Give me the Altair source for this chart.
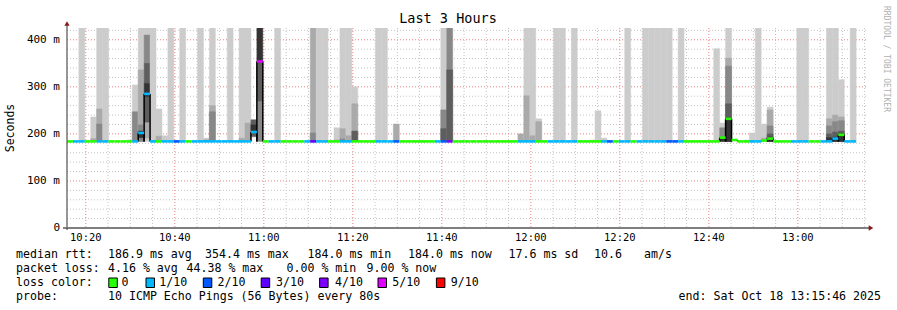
import altair as alt
import numpy as np
import pandas as pd

# ------------------------------------------------------------------ data
T_START = 10 * 60 + 15 + 46 / 60      # 10:15:46 (minutes since midnight)
STEP_MIN = 80 / 60                    # one probe round every 80 s
SPAN_MIN = 180                        # last 3 hours
Y_MAX = 425                           # top of value axis (ms)

loss_names = ["0", "1/10", "2/10", "3/10", "4/10", "5/10", "9/10"]
loss_values = [0, 1, 2, 3, 4, 5, 9]
loss_colors = ["#26ff00", "#00b8ff", "#0059ff", "#5e00ff", "#7e00ff", "#dd00ff", "#ff0000"]

# lost pings (of 10) per 80 s step
loss_level = [
    0, 1, 1, 0, 0, 1, 1, 0, 0, 0,
    0, 1, 1, 1, 1, 0, 1, 1, 2, 1,
    0, 1, 1, 1, 1, 1, 1, 1, 1, 1,
    1, 1, 5, 0, 1, 1, 0, 0, 0, 0,
    1, 3, 1, 1, 0, 0, 1, 1, 0, 0,
    0, 0, 1, 1, 1, 2, 0, 0, 0, 0,
    0, 0, 1, 2, 4, 0, 0, 0, 0, 0,
    0, 0, 0, 0, 0, 0, 1, 1, 1, 0,
    0, 1, 1, 1, 1, 1, 0, 0, 0, 0,
    1, 2, 0, 1, 1, 0, 1, 1, 1, 1,
    1, 2, 2, 1, 0, 0, 0, 0, 0, 0,
    0, 0, 0, 0, 0, 1, 1, 0, 0, 0,
    0, 0, 1, 1, 1, 0, 0, 1, 1, 1,
    0, 1, 1,
]

# median rtt per step (ms)
median_ms = [
    184, 184, 184, 184, 184, 184, 184, 184, 184, 184,
    184, 184, 202, 285, 184, 184, 184, 184, 184, 184,
    184, 184, 184, 184, 184, 184, 184, 184, 184, 184,
    184, 204, 354, 184, 184, 184, 184, 184, 184, 184,
    184, 184, 184, 184, 184, 184, 184, 184, 184, 184,
    184, 184, 184, 184, 184, 184, 184, 184, 184, 184,
    184, 184, 184, 184, 184, 184, 184, 184, 184, 184,
    184, 184, 184, 184, 184, 184, 184, 184, 184, 184,
    184, 184, 184, 184, 184, 184, 184, 184, 184, 184,
    184, 184, 184, 184, 184, 184, 184, 184, 184, 184,
    184, 184, 184, 184, 184, 184, 184, 184, 184, 184,
    192, 232, 187, 184, 184, 184, 184, 186, 190, 184,
    184, 184, 184, 184, 184, 184, 184, 184, 184, 190,
    198, 184, 184,
]

# smoke bands: step, low ms, high ms, tone (1 lightest .. 5 darkest)
smoke_step = [
    2,
    4, 4,
    5, 5, 5,
    6,
    10,
    11, 11,
    12, 12, 12, 12,
    13, 13, 13, 13, 13, 13,
    14,
    15, 15,
    16,
    17,
    19,
    22,
    23, 23,
    24, 24, 24,
    27,
    29, 29,
    30, 30,
    31, 31,
    32, 32, 32,
    35,
    41, 41,
    42,
    43,
    45, 45,
    46, 46, 46,
    47, 47,
    48, 48, 48,
    52,
    53,
    55,
    63, 63, 63,
    64, 64,
    76,
    77, 77,
    78, 78,
    79, 79,
    82,
    83,
    85,
    88,
    89,
    90,
    94,
    97, 98, 99, 100, 101,
    103,
    109,
    110, 110, 110,
    111, 111, 111, 111, 111,
    114,
    115,
    116,
    117, 117,
    118, 118, 118, 118, 118,
    123,
    124,
    128, 128, 128, 128, 128,
    129, 129, 129, 129, 129,
    130, 130, 130, 130, 130,
    132,
]
smoke_lo = [
    184,
    184, 184,
    184, 184, 184,
    184,
    184,
    184, 184,
    184, 184, 184, 192,
    184, 191, 225, 279, 308, 351,
    184,
    184, 184,
    184,
    184,
    184,
    184,
    184, 184,
    184, 184, 184,
    184,
    184, 184,
    184, 184,
    194, 206,
    184, 270, 354,
    184,
    184, 184,
    184,
    184,
    184, 184,
    184, 184, 184,
    184, 184,
    184, 184, 184,
    184,
    184,
    184,
    184, 184, 184,
    184, 184,
    184,
    184, 184,
    184, 184,
    184, 184,
    184,
    184,
    184,
    184,
    184,
    184,
    184,
    184, 184, 184, 184, 184,
    184,
    184,
    184, 184, 184,
    184, 184, 184, 184, 184,
    184,
    184,
    184,
    184, 184,
    184, 184, 184, 184, 184,
    184,
    184,
    184, 184, 184, 184, 184,
    184, 184, 184, 184, 184,
    184, 184, 184, 184, 184,
    184,
]
smoke_hi = [
    430,
    236, 190,
    430, 253, 221,
    430,
    187,
    304, 247,
    430, 336, 219, 206,
    430, 225, 279, 308, 351, 410,
    430,
    253, 195,
    196,
    430,
    430,
    430,
    191, 187,
    430, 260, 247,
    430,
    430, 191,
    430, 223,
    230, 219,
    270, 354, 430,
    430,
    430, 202,
    430,
    430,
    213, 187,
    430, 211, 189,
    430, 196,
    300, 264, 206,
    430,
    430,
    221,
    430, 251, 211,
    430, 336,
    200,
    430, 281,
    430, 196,
    232, 226,
    430,
    430,
    430,
    187,
    249,
    191,
    430,
    430, 430, 430, 430, 430,
    430,
    381,
    223, 213, 192,
    430, 361, 344, 264, 234,
    187,
    202,
    430,
    221, 191,
    257, 251, 217, 200, 193,
    430,
    430,
    430, 232, 217, 200, 192,
    430, 240, 226, 204, 193,
    315, 236, 228, 206, 200,
    430,
]
smoke_tone = [
    1,
    1, 2,
    1, 2, 3,
    1,
    1,
    1, 3,
    1, 2, 3, 5,
    1, 2, 4, 5, 4, 3,
    1,
    1, 2,
    1,
    1,
    1,
    1,
    1, 3,
    1, 2, 3,
    1,
    1, 2,
    1, 2,
    4, 5,
    3, 4, 5,
    1,
    2, 3,
    1,
    1,
    1, 2,
    1, 2, 3,
    1, 2,
    1, 2, 4,
    1,
    1,
    2,
    1, 3, 4,
    3, 4,
    2,
    1, 2,
    1, 2,
    1, 2,
    1,
    1,
    1,
    1,
    1,
    1,
    1,
    1, 1, 1, 1, 1,
    1,
    1,
    1, 3, 5,
    1, 2, 3, 4, 5,
    1,
    1,
    1,
    1, 2,
    1, 2, 3, 4, 5,
    1,
    1,
    1, 2, 3, 4, 5,
    1, 2, 3, 4, 5,
    1, 2, 3, 4, 5,
    1,
]
tone_colors = {1: "#cccccc", 2: "#aaaaaa", 3: "#888888", 4: "#5e5e5e", 5: "#333333"}

x_tick_minutes = [620, 640, 660, 680, 700, 720, 740, 760, 780]
y_tick_values = [0, 100, 200, 300, 400]

stats_rtt = ["median rtt:", "186.9 ms avg", "354.4 ms max", "184.0 ms min",
             "184.0 ms now", "17.6 ms sd", "10.6", "am/s"]
stats_loss = ["packet loss:", "4.16 % avg", "44.38 % max", "0.00 % min", "9.00 % now"]
probe_text = ["probe:", "10 ICMP Echo Pings (56 Bytes) every 80s"]
end_text = "end: Sat Oct 18 13:15:46 2025"
title_text = "Last 3 Hours"

assert len(loss_level) == len(median_ms) == 133
assert len(smoke_step) == len(smoke_lo) == len(smoke_hi) == len(smoke_tone)

# ------------------------------------------------------------------ layout
W, H = 801, 200
PL, PT = 67, 28
FONT = "DejaVu Sans Mono"

xs = alt.Scale(domain=[T_START, T_START + SPAN_MIN], nice=False, zero=False)
ys = alt.Scale(domain=[0, Y_MAX], nice=False, zero=False)


def X(f):
    return alt.X(f, type="quantitative", scale=xs, axis=None)


def Y(f):
    return alt.Y(f, type="quantitative", scale=ys, axis=None)


one = pd.DataFrame({"a": [0]})

# grid
minor_x = [m for m in range(620, 800, 5) if m % 20 != 0]
major_x = list(range(620, 800, 20))
minor_y = [v for v in range(20, 425, 20) if v % 100 != 0]
major_y = [100, 200, 300, 400]

grid_minor_x = alt.Chart(pd.DataFrame({"m": minor_x})).mark_rule(
    color="#c4c4c4", strokeDash=[1, 2], strokeWidth=1).encode(
    x=X("m"), y=alt.value(0), y2=alt.value(H))
grid_minor_y = alt.Chart(pd.DataFrame({"v": minor_y})).mark_rule(
    color="#c4c4c4", strokeDash=[1, 2], strokeWidth=1).encode(
    y=Y("v"), x=alt.value(0), x2=alt.value(W))
grid_major_x = alt.Chart(pd.DataFrame({"m": major_x})).mark_rule(
    color="#ee8080", strokeDash=[1, 2], strokeWidth=1).encode(
    x=X("m"), y=alt.value(0), y2=alt.value(H))
grid_major_y = alt.Chart(pd.DataFrame({"v": major_y})).mark_rule(
    color="#ee8080", strokeDash=[1, 2], strokeWidth=1).encode(
    y=Y("v"), x=alt.value(0), x2=alt.value(W))

# smoke
smoke_df = pd.DataFrame({
    "step": smoke_step, "lo": smoke_lo, "hi": smoke_hi,
    "shade": [tone_colors[t] for t in smoke_tone],
})
smoke_df["t0"] = T_START + smoke_df["step"] * STEP_MIN
smoke_df["t1"] = smoke_df["t0"] + STEP_MIN
smoke = alt.Chart(smoke_df).mark_rect(clip=True, strokeWidth=0.5).encode(
    x=X("t0"), x2="t1:Q", y=Y("lo"), y2="hi:Q",
    color=alt.Color("shade:N", scale=None),
    stroke=alt.Stroke("shade:N", scale=None))

# median line
steps = np.arange(len(median_ms))
cmap = dict(zip(loss_values, loss_colors))
med_df = pd.DataFrame({
    "t0": T_START + steps * STEP_MIN,
    "t1": T_START + (steps + 1) * STEP_MIN,
    "med": median_ms,
    "col": [cmap[v] for v in loss_level],
})
edge_rows = []
for k, m in enumerate(median_ms):
    if m > 185:
        for t in (T_START + k * STEP_MIN, T_START + (k + 1) * STEP_MIN):
            edge_rows.append({"t": t, "base": 184, "med": m})
edge_df = pd.DataFrame(edge_rows)
edges = alt.Chart(edge_df).mark_rule(color="black", strokeWidth=1.5).encode(
    x=X("t"), y=Y("base"), y2="med:Q")
median = alt.Chart(med_df).mark_rule(strokeWidth=2.6).encode(
    x=X("t0"), x2="t1:Q", y=Y("med"), color=alt.Color("col:N", scale=None))

# axes
x_axis = alt.Chart(one).mark_rule(color="black", strokeWidth=1).encode(
    x=alt.value(-4), x2=alt.value(W + 2), y=alt.value(H))
y_axis = alt.Chart(one).mark_rule(color="#606060", strokeWidth=1.3).encode(
    x=alt.value(0), y=alt.value(-4), y2=alt.value(H + 2))
arrow_up = alt.Chart(one).mark_point(shape="triangle-up", filled=True, size=28,
                                     color="#8b1a1a", opacity=1).encode(
    x=alt.value(0), y=alt.value(-4.5))
arrow_right = alt.Chart(one).mark_point(shape="triangle-right", filled=True, size=28,
                                        color="#8b1a1a", opacity=1).encode(
    x=alt.value(W + 3), y=alt.value(H))

xlab_df = pd.DataFrame({"m": x_tick_minutes,
                        "label": [f"{m // 60}:{m % 60:02d}" for m in x_tick_minutes]})
x_labels = alt.Chart(xlab_df).mark_text(font=FONT, fontSize=10.5, align="center",
                                        baseline="middle", color="black").encode(
    x=X("m"), y=alt.value(H + 10), text="label:N")
ylab_df = pd.DataFrame({"v": y_tick_values,
                        "label": ["0\u00a0\u00a0" if v == 0 else f"{v} m" for v in y_tick_values]})
y_labels = alt.Chart(ylab_df).mark_text(font=FONT, fontSize=11, align="right",
                                        baseline="middle", color="black").encode(
    y=Y("v"), x=alt.value(-7), text="label:N")


def text_layer(rows, size, align="left", angle=0, color="black"):
    df = pd.DataFrame(rows, columns=["text", "px", "py"])
    df["px"] = df["px"] - PL
    df["py"] = df["py"] - PT
    return alt.Chart(df).mark_text(font=FONT, fontSize=size, align=align,
                                   baseline="middle", angle=angle, color=color).encode(
        x=alt.X("px:Q", scale=None), y=alt.Y("py:Q", scale=None), text="text:N")


title = text_layer([(title_text, 448, 19)], 13.5, align="center")
ylabel = text_layer([("Seconds", 11, 128)], 11.5, align="center", angle=270)
rrd = text_layer([("RRDTOOL / TOBI OETIKER", 886, 59)], 8, align="center", angle=90,
                 color="#b0b0b0")

rtt_x = [16, 108, 205, 307.5, 408, 508.5, 594, 644]
loss_x = [16, 108, 186.5, 286.5, 366.5]
box_x = [108.8, 146, 203.3, 261.2, 319.6, 378, 436.4]
lab_x = [121.4, 159.2, 217.6, 276, 335, 392.3, 450.7]
rows = []
rows += [(t, x, 254.5) for t, x in zip(stats_rtt, rtt_x)]
rows += [(t, x, 268.5) for t, x in zip(stats_loss, loss_x)]
rows += [("loss color:", 16, 282.5)]
rows += [(t, x, 282.5) for t, x in zip(loss_names, lab_x)]
rows += [(probe_text[0], 16, 296.5), (probe_text[1], 108, 296.5)]
legend_text = text_layer(rows, 11.6)
end_layer = text_layer([(end_text, 881, 296.5)], 11.6, align="right")

box_df = pd.DataFrame({"bx": [b - PL for b in box_x],
                       "col": loss_colors})
box_df["bx2"] = box_df["bx"] + 8.5
box_df["by"] = 278 - PT
box_df["by2"] = 287.5 - PT
boxes = alt.Chart(box_df).mark_rect(stroke="black", strokeWidth=1).encode(
    x=alt.X("bx:Q", scale=None), x2="bx2:Q",
    y=alt.Y("by:Q", scale=None), y2="by2:Q",
    color=alt.Color("col:N", scale=None))

chart = alt.layer(
    grid_minor_x, grid_minor_y, grid_major_x, grid_major_y,
    smoke, edges, median,
    x_axis, y_axis, arrow_up, arrow_right,
    x_labels, y_labels, title, ylabel, rrd, legend_text, end_layer, boxes,
).resolve_scale(x="independent", y="independent").properties(
    width=W, height=H,
    padding={"left": PL, "top": PT, "right": 897 - PL - W, "bottom": 310 - PT - H},
    autosize=alt.AutoSizeParams(type="none"),
    background="white",
).configure_view(strokeWidth=0)

chart.save("out.html", embed_options={"renderer": "svg", "actions": False})
